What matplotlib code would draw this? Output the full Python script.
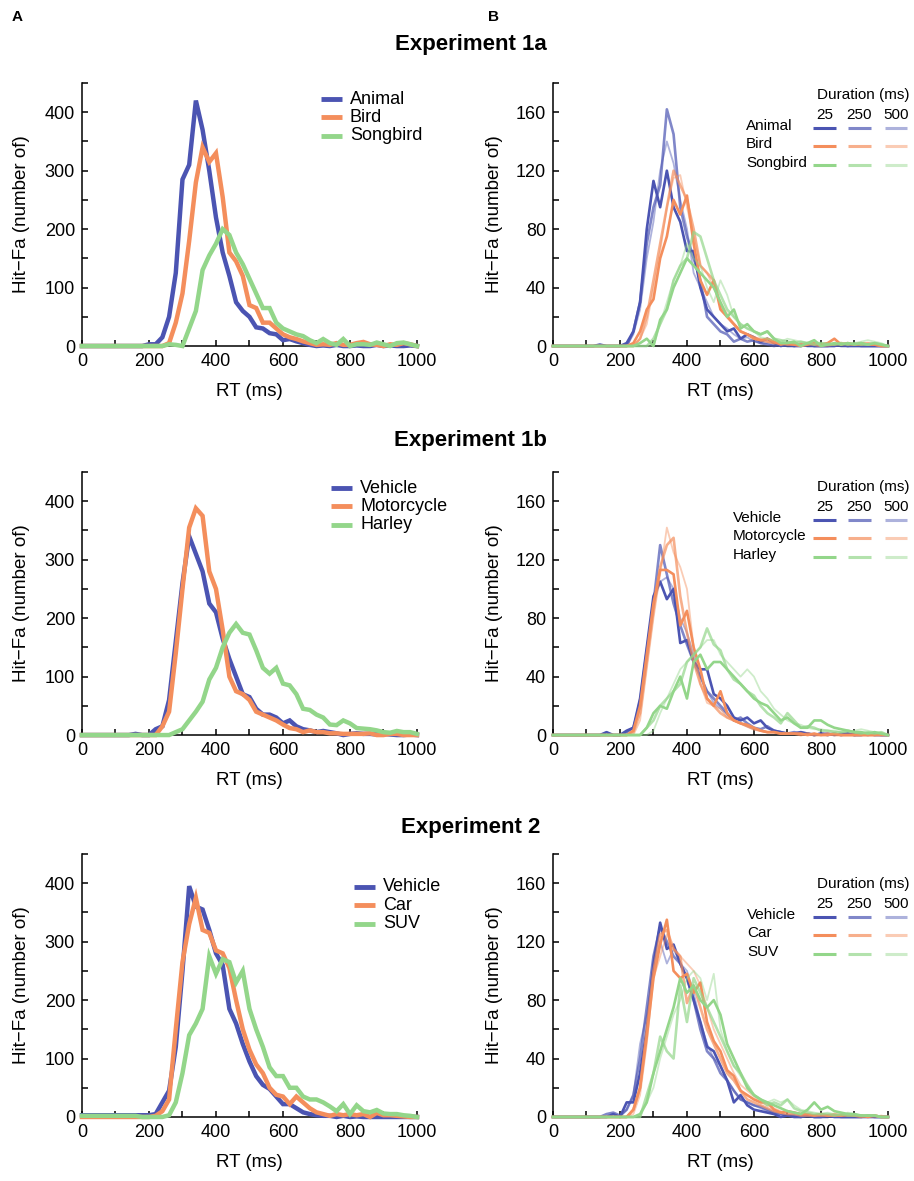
import matplotlib
matplotlib.use('Agg')
import matplotlib.pyplot as plt
import numpy as np

plt.rcParams['font.family'] = ['Liberation Sans', 'DejaVu Sans']

# RT bins (ms), 20 ms wide
rt = np.arange(0, 1001, 20)

# ---------- Experiment 1a ----------
animal = [0, 0, 0, 0, 0, 0, 0, 0, 0, 0,
          3, 3, 15, 50, 125, 285, 310, 420, 370, 300,
          220, 160, 120, 75, 60, 50, 32, 30, 22, 20,
          10, 12, 8, 5, 2, 0, 1, 0, 2, 0,
          0, 1, 0, 0, 2, 0, 1, 0, 0, 1, 0]
bird = [0, 0, 0, 0, 0, 0, 0, 0, 0, 0,
        0, 0, 0, 5, 40, 90, 180, 280, 340, 315,
        330, 255, 160, 145, 120, 70, 65, 40, 40, 30,
        20, 15, 12, 8, 5, 2, 3, 2, 5, 2,
        2, 5, 7, 3, 2, 0, 3, 2, 5, 3, 0]
songbird = [0, 0, 0, 0, 0, 0, 0, 0, 0, 0,
            0, 0, 0, 3, 2, 0, 30, 60, 130, 155,
            175, 200, 190, 160, 140, 115, 90, 65, 65, 40,
            30, 25, 20, 17, 10, 5, 12, 5, 2, 12,
            0, 3, 3, 2, 6, 3, 0, 5, 6, 3, 0]

# per-duration curves (25, 250, 500 ms)
animal_dur = [
    [0, 0, 0, 0, 0, 0, 0, 1, 0, 0,
     0, 2, 10, 30, 80, 113, 95, 120, 95, 85,
     65, 65, 40, 25, 20, 15, 10, 12, 5, 8,
     6, 3, 5, 2, 0, 1, 0, 0, 1, 0,
     0, 0, 0, 1, 0, 0, 0, 0, 0, 0, 0],
    [0, 0, 0, 0, 0, 0, 0, 0, 0, 0,
     0, 0, 10, 30, 70, 95, 110, 162, 145, 95,
     75, 60, 45, 20, 15, 10, 8, 3, 5, 3,
     4, 2, 1, 0, 1, 0, 0, 1, 0, 0,
     0, 0, 1, 0, 0, 1, 0, 0, 0, 0, 0],
    [0, 0, 0, 0, 0, 0, 0, 0, 0, 0,
     0, 0, 8, 25, 60, 85, 120, 140, 125, 100,
     80, 50, 40, 30, 20, 15, 12, 8, 5, 6,
     3, 2, 2, 1, 0, 1, 0, 0, 0, 0,
     0, 1, 0, 0, 0, 0, 0, 1, 0, 0, 0]]
bird_dur = [
    [0, 0, 0, 0, 0, 0, 0, 0, 0, 0,
     0, 0, 2, 10, 25, 32, 60, 75, 100, 90,
     103, 70, 45, 35, 45, 25, 20, 15, 10, 8,
     5, 4, 5, 3, 1, 2, 1, 0, 1, 2,
     1, 2, 5, 1, 2, 1, 2, 1, 1, 0, 0],
    [0, 0, 0, 0, 0, 0, 0, 0, 0, 0,
     0, 0, 0, 5, 20, 45, 70, 95, 120, 110,
     100, 80, 55, 50, 45, 28, 20, 15, 10, 8,
     6, 4, 3, 2, 2, 1, 1, 1, 2, 1,
     0, 1, 1, 2, 1, 1, 1, 2, 1, 0, 0],
    [0, 0, 0, 0, 0, 0, 0, 0, 0, 0,
     0, 0, 0, 5, 15, 40, 65, 95, 115, 117,
     95, 75, 55, 50, 40, 30, 22, 15, 10, 8,
     6, 5, 3, 2, 2, 1, 1, 2, 1, 1,
     1, 0, 1, 1, 2, 1, 1, 1, 1, 0, 0]]
songbird_dur = [
    [0, 0, 0, 0, 0, 0, 0, 0, 0, 0,
     0, 0, 0, 2, 5, 0, 18, 25, 40, 50,
     60, 55, 50, 45, 40, 30, 20, 25, 12, 15,
     10, 8, 10, 5, 2, 2, 3, 0, 2, 4,
     0, 1, 2, 1, 2, 1, 2, 1, 2, 1, 0],
    [0, 0, 0, 0, 0, 0, 0, 0, 0, 0,
     0, 0, 0, 0, 0, 5, 15, 25, 45, 55,
     60, 78, 75, 60, 45, 35, 25, 20, 15, 12,
     10, 8, 10, 5, 4, 3, 2, 3, 2, 1,
     2, 1, 1, 2, 1, 2, 1, 1, 2, 1, 0],
    [0, 0, 0, 0, 0, 0, 0, 0, 0, 0,
     0, 0, 0, 0, 0, 0, 15, 30, 45, 55,
     70, 60, 55, 40, 30, 45, 35, 20, 15, 12,
     10, 6, 5, 4, 3, 5, 4, 3, 2, 3,
     2, 2, 1, 2, 1, 2, 3, 4, 3, 2, 0]]

# ---------- Experiment 1b ----------
vehicle_1b = [0, 0, 0, 0, 0, 0, 0, 0, 2, 0,
              0, 10, 15, 60, 160, 260, 340, 310, 280, 225,
              210, 165, 130, 100, 70, 65, 45, 35, 35, 30,
              20, 25, 15, 10, 8, 5, 7, 5, 3, 0,
              2, 3, 2, 2, 1, 2, 1, 0, 0, 1, 0]
motorcycle = [0, 0, 0, 0, 0, 0, 0, 0, 0, 0,
              0, 0, 15, 40, 140, 250, 355, 388, 375, 280,
              250, 180, 100, 75, 70, 60, 40, 35, 30, 25,
              18, 12, 10, 5, 8, 5, 5, 3, 3, 2,
              2, 2, 2, 3, 0, 0, 2, 2, 0, 0, 0]
harley = [0, 0, 0, 0, 0, 0, 0, 0, 0, 0,
          0, 0, 0, 0, 5, 10, 25, 40, 57, 95,
          115, 150, 175, 190, 175, 172, 145, 115, 105, 115,
          88, 85, 70, 45, 43, 35, 30, 18, 17, 25,
          20, 12, 11, 10, 8, 5, 4, 7, 5, 5, 2]

vehicle_1b_dur = [
    [0, 0, 0, 0, 0, 0, 0, 0, 2, 0,
     0, 3, 5, 25, 60, 95, 105, 93, 100, 63,
     65, 50, 45, 45, 28, 25, 20, 12, 10, 12,
     8, 10, 5, 3, 2, 1, 1, 2, 1, 0,
     1, 0, 1, 0, 1, 0, 0, 1, 0, 0, 0],
    [0, 0, 0, 0, 0, 0, 0, 0, 0, 0,
     0, 2, 5, 20, 55, 90, 130, 110, 90, 75,
     62, 50, 40, 30, 25, 20, 15, 10, 12, 8,
     5, 4, 6, 3, 2, 1, 2, 1, 1, 0,
     1, 1, 0, 1, 1, 0, 1, 0, 1, 0, 0],
    [0, 0, 0, 0, 0, 0, 0, 0, 0, 0,
     0, 2, 5, 25, 60, 90, 105, 108, 100, 80,
     70, 55, 40, 30, 22, 18, 14, 10, 8, 6,
     4, 3, 2, 2, 1, 1, 1, 2, 1, 1,
     0, 1, 1, 0, 1, 1, 0, 1, 1, 0, 0]]
motorcycle_dur = [
    [0, 0, 0, 0, 0, 0, 0, 0, 0, 0,
     0, 0, 3, 20, 55, 90, 113, 113, 110, 75,
     85, 60, 45, 25, 20, 30, 15, 10, 8, 7,
     5, 3, 2, 2, 1, 1, 1, 1, 0, 1,
     0, 0, 1, 0, 0, 0, 0, 0, 0, 0, 0],
    [0, 0, 0, 0, 0, 0, 0, 0, 0, 0,
     0, 0, 2, 15, 50, 85, 115, 130, 135, 95,
     70, 50, 35, 25, 20, 15, 12, 10, 8, 6,
     4, 3, 2, 2, 1, 1, 1, 0, 1, 0,
     0, 1, 0, 0, 0, 0, 0, 0, 0, 1, 0],
    [0, 0, 0, 0, 0, 0, 0, 0, 0, 0,
     0, 0, 0, 10, 45, 80, 110, 142, 125, 115,
     100, 60, 35, 22, 20, 18, 12, 10, 8, 6,
     5, 3, 2, 2, 1, 1, 1, 1, 0, 1,
     0, 0, 1, 0, 0, 1, 0, 0, 0, 0, 0]]
harley_dur = [
    [0, 0, 0, 0, 0, 0, 0, 0, 0, 0,
     0, 0, 0, 0, 5, 15, 20, 18, 30, 40,
     25, 50, 55, 45, 50, 50, 45, 40, 35, 30,
     25, 22, 20, 15, 10, 12, 8, 5, 5, 10,
     10, 7, 5, 4, 3, 2, 2, 1, 2, 1, 0],
    [0, 0, 0, 0, 0, 0, 0, 0, 0, 0,
     0, 0, 0, 0, 5, 10, 20, 25, 30, 35,
     50, 55, 60, 73, 62, 58, 45, 38, 35, 30,
     27, 20, 15, 12, 8, 15, 10, 5, 6, 5,
     3, 3, 2, 2, 3, 2, 1, 2, 1, 2, 0],
    [0, 0, 0, 0, 0, 0, 0, 0, 0, 0,
     0, 0, 0, 0, 0, 3, 15, 25, 35, 45,
     50, 55, 60, 65, 65, 55, 50, 45, 40, 45,
     40, 30, 25, 18, 14, 10, 8, 7, 5, 4,
     4, 3, 3, 2, 2, 3, 4, 3, 2, 1, 0]]

# ---------- Experiment 2 ----------
vehicle_2 = [3, 3, 3, 3, 3, 3, 3, 3, 3, 3,
             3, 5, 25, 45, 120, 250, 395, 360, 355, 320,
             280, 260, 185, 160, 125, 95, 70, 55, 48, 35,
             22, 22, 15, 8, 5, 3, 2, 2, 0, 2,
             0, 1, 0, 0, 0, 0, 0, 0, 0, 0, 0]
car = [0, 0, 0, 0, 0, 0, 0, 0, 0, 0,
       0, 2, 10, 30, 150, 265, 330, 375, 320, 315,
       285, 280, 255, 200, 150, 115, 90, 75, 50, 38,
       35, 22, 35, 25, 15, 8, 5, 2, 5, 3,
       5, 3, 5, 0, 7, 3, 3, 2, 1, 0, 0]
suv = [2, 2, 2, 2, 2, 2, 2, 2, 2, 0,
       0, 0, 0, 3, 25, 75, 140, 160, 185, 275,
       245, 270, 265, 230, 250, 185, 150, 120, 85, 70,
       70, 50, 50, 35, 30, 30, 25, 18, 10, 22,
       5, 20, 10, 8, 12, 6, 5, 5, 3, 2, 0]

vehicle_2_dur = [
    [0, 0, 0, 0, 0, 0, 0, 0, 0, 2,
     0, 10, 10, 30, 60, 105, 133, 115, 118, 105,
     95, 80, 65, 48, 45, 35, 25, 10, 15, 8,
     5, 4, 3, 2, 0, 1, 0, 0, 1, 0,
     0, 1, 0, 0, 0, 0, 0, 0, 0, 0, 0],
    [0, 0, 0, 0, 0, 0, 0, 0, 2, 3,
     1, 5, 15, 40, 75, 110, 130, 120, 110, 105,
     95, 80, 60, 45, 40, 30, 25, 18, 12, 10,
     8, 7, 5, 3, 2, 1, 1, 0, 1, 0,
     0, 0, 1, 0, 0, 0, 0, 1, 0, 0, 0],
    [0, 0, 0, 0, 0, 0, 0, 0, 0, 0,
     0, 5, 15, 50, 70, 100, 120, 105, 115, 105,
     100, 85, 65, 50, 40, 35, 25, 18, 12, 10,
     8, 6, 4, 3, 2, 1, 1, 1, 0, 1,
     0, 1, 0, 0, 1, 0, 0, 0, 0, 0, 0]]
car_dur = [
    [0, 0, 0, 0, 0, 0, 0, 0, 0, 0,
     0, 0, 5, 20, 55, 95, 118, 135, 100, 95,
     98, 85, 92, 65, 52, 45, 32, 28, 18, 15,
     12, 10, 10, 5, 3, 4, 3, 2, 2, 1,
     2, 1, 1, 1, 2, 1, 1, 0, 1, 0, 0],
    [0, 0, 0, 0, 0, 0, 0, 0, 0, 0,
     0, 0, 5, 20, 60, 100, 125, 128, 115, 110,
     78, 90, 75, 60, 50, 40, 30, 25, 18, 12,
     10, 8, 6, 4, 3, 2, 2, 1, 1, 1,
     1, 1, 2, 1, 1, 1, 0, 1, 1, 0, 0],
    [0, 0, 0, 0, 0, 0, 0, 0, 0, 0,
     0, 0, 2, 15, 50, 95, 110, 125, 115, 110,
     105, 100, 90, 75, 60, 50, 40, 30, 22, 18,
     14, 10, 8, 6, 4, 3, 3, 2, 2, 1,
     1, 1, 1, 1, 1, 1, 1, 1, 0, 1, 0]]
suv_dur = [
    [0, 0, 0, 0, 0, 0, 0, 0, 0, 0,
     0, 0, 0, 2, 10, 30, 45, 60, 75, 95,
     85, 90, 80, 75, 80, 70, 50, 40, 30, 20,
     15, 12, 10, 8, 6, 4, 3, 2, 5, 10,
     5, 7, 4, 3, 2, 2, 1, 1, 1, 0, 0],
    [0, 0, 0, 0, 0, 0, 0, 0, 0, 0,
     0, 0, 0, 0, 15, 30, 55, 45, 40, 90,
     65, 95, 85, 75, 65, 55, 45, 35, 30, 22,
     15, 12, 8, 10, 8, 12, 6, 4, 3, 2,
     2, 2, 1, 2, 1, 1, 1, 1, 1, 0, 0],
    [0, 0, 0, 0, 0, 0, 0, 0, 0, 0,
     0, 0, 0, 0, 10, 20, 40, 55, 70, 80,
     95, 100, 95, 80, 98, 60, 45, 35, 28, 22,
     15, 12, 10, 12, 10, 12, 8, 5, 4, 3,
     2, 3, 2, 1, 3, 2, 1, 1, 1, 0, 0]]

durations = ['25', '250', '500']
colors = ['#4b54b2', '#f48e5c', '#93d68a']
dur_alpha = [1.0, 0.7, 0.45]
dur_lw = [1.9, 1.9, 1.3]

rows = [
    {'title': 'Experiment 1a', 'names': ['Animal', 'Bird', 'Songbird'],
     'totals': [animal, bird, songbird],
     'dur': [animal_dur, bird_dur, songbird_dur],
     'leg_a': (0.713, 0.939), 'leg_b': (0.576, 0.954)},
    {'title': 'Experiment 1b', 'names': ['Vehicle', 'Motorcycle', 'Harley'],
     'totals': [vehicle_1b, motorcycle, harley],
     'dur': [vehicle_1b_dur, motorcycle_dur, harley_dur],
     'leg_a': (0.743, 0.939), 'leg_b': (0.537, 0.943)},
    {'title': 'Experiment 2', 'names': ['Vehicle', 'Car', 'SUV'],
     'totals': [vehicle_2, car, suv],
     'dur': [vehicle_2_dur, car_dur, suv_dur],
     'leg_a': (0.812, 0.875), 'leg_b': (0.579, 0.886)},
]

fig = plt.figure(figsize=(9.14, 11.81), dpi=100)

bottoms = [0.707, 0.3776, 0.0542]
title_y = [0.962, 0.6274, 0.2989]
w, h = 0.3665, 0.2227


def style_axes(ax, ymax, ystep, ylab_x):
    for s in ['top', 'right']:
        ax.spines[s].set_visible(False)
    for s in ['left', 'bottom']:
        ax.spines[s].set_linewidth(1.1)
    ax.set_xlim(0, 1000)
    ax.set_ylim(0, ymax)
    ax.set_xticks(np.arange(0, 1001, 200))
    ax.set_xticks(np.arange(100, 1000, 200), minor=True)
    ax.set_yticks(np.arange(0, ymax, ystep))
    ax.set_yticks(np.arange(ystep / 2, ymax + 1, ystep), minor=True)
    ax.tick_params(which='both', direction='in', length=4, width=1.1,
                   labelsize=13, pad=5)
    ax.set_xlabel('RT (ms)', fontsize=13.5)
    ax.set_ylabel('Hit\u2212Fa (number of)', fontsize=13.5)
    ax.xaxis.set_label_coords(0.5, -0.14)
    ax.yaxis.set_label_coords(ylab_x, 0.5)


for r, row in enumerate(rows):
    # left: totals per category
    axA = fig.add_axes([0.0897, bottoms[r], w, h])
    for k in range(3):
        axA.plot(rt, row['totals'][k], color=colors[k], lw=3.2,
                 clip_on=False, solid_joinstyle='miter', zorder=3 + k)
    style_axes(axA, 450, 100, -0.155)
    lx, ly = row['leg_a']
    for k, name in enumerate(row['names']):
        yy = ly - 0.07 * k
        axA.plot([lx, lx + 0.063], [yy, yy], transform=axA.transAxes,
                 color=colors[k], lw=3.5, solid_capstyle='butt')
        axA.text(lx + 0.087, yy, name, transform=axA.transAxes,
                 fontsize=13, va='center', ha='left')

    # right: split by presentation duration
    axB = fig.add_axes([0.605, bottoms[r], w, h])
    for k in range(3):
        for d in [2, 1, 0]:
            axB.plot(rt, row['dur'][k][d], color=colors[k], alpha=dur_alpha[d],
                     lw=dur_lw[d], clip_on=False, zorder=3 + k)
    style_axes(axB, 180, 40, -0.149)
    bx, by = row['leg_b']
    axB.text(0.788, by, 'Duration (ms)', transform=axB.transAxes,
             fontsize=11, va='center', ha='left', clip_on=False)
    seg_x = [(0.776, 0.845), (0.881, 0.949), (0.991, 1.057)]
    for d, lab in enumerate(durations):
        cx = (seg_x[d][0] + seg_x[d][1]) / 2
        axB.text(cx, by - 0.076, lab, transform=axB.transAxes,
                 fontsize=11, va='center', ha='center')
    for k, name in enumerate(row['names']):
        yy = by - 0.125 - 0.07 * k
        axB.text(bx, yy + 0.008, name, transform=axB.transAxes,
                 fontsize=11, va='center', ha='left')
        for d in range(3):
            axB.plot(seg_x[d], [yy, yy], transform=axB.transAxes,
                     color=colors[k], alpha=dur_alpha[d], lw=2.2,
                     solid_capstyle='butt', clip_on=False)

    fig.text(0.515, title_y[r], row['title'], ha='center', va='center',
             fontsize=16, fontweight='bold')

fig.text(0.0186, 0.9856, 'A', ha='center', va='center', fontsize=11,
         fontweight='bold')
fig.text(0.540, 0.9856, 'B', ha='center', va='center', fontsize=11,
         fontweight='bold')

fig.savefig('out.png', dpi=100)
